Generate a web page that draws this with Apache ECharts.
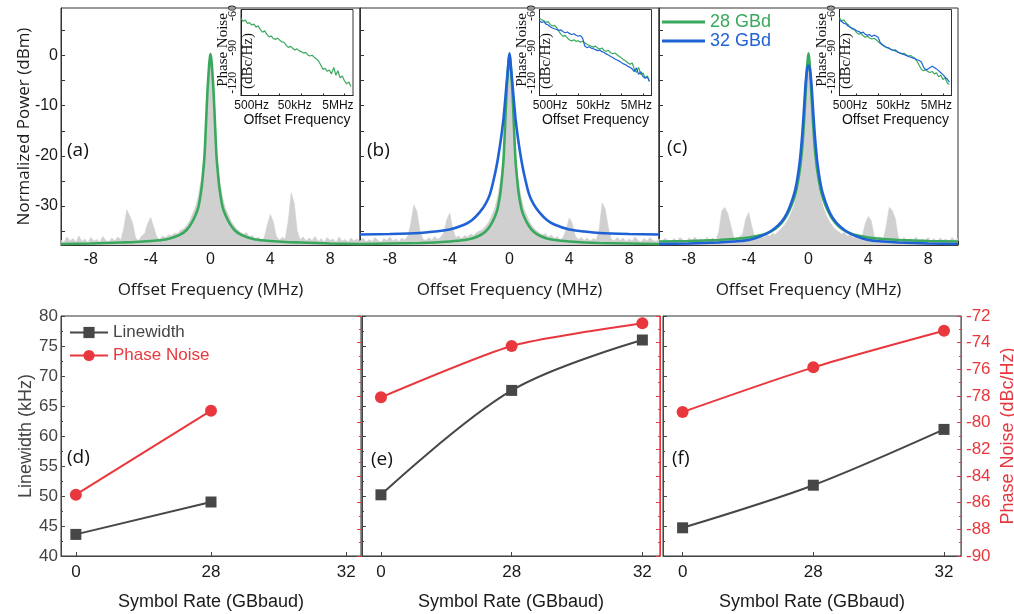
<!DOCTYPE html>
<html lang="en">
<head>
<meta charset="UTF-8">
<title>Spectra, phase noise and linewidth</title>
<script src="https://cdn.jsdelivr.net/npm/echarts@6.0.0/dist/echarts.min.js"></script>
<style>
    html, body { margin: 0; padding: 0; background: #fff; }
    #main { width: 1014px; height: 614px; }
</style>
</head>
<body>
<div id="main"></div>
<script>
    // ---------- measured spectra (grey), x in MHz ----------
    const grayX = [
        -10, -9.8, -9.6, -9.4, -9.2, -9, -8.8, -8.6, -8.4, -8.2,
        -8, -7.8, -7.6, -7.4, -7.2, -7, -6.8, -6.6, -6.4, -6.2,
        -6, -5.8, -5.6, -5.4, -5.2, -5, -4.8, -4.6, -4.4, -4.2,
        -4, -3.8, -3.6, -3.4, -3.2, -3, -2.8, -2.6, -2.4, -2.2,
        -2, -1.8, -1.6, -1.4, -1.2, -1, -0.9, -0.8, -0.7, -0.6,
        -0.5, -0.4, -0.3, -0.2, -0.15, -0.1, -0.05, 0,
        0.05, 0.1, 0.15, 0.2, 0.3, 0.4, 0.5, 0.6, 0.7, 0.8, 0.9, 1,
        1.2, 1.4, 1.6, 1.8,
        2, 2.2, 2.4, 2.6, 2.8, 3, 3.2, 3.4, 3.6, 3.8,
        4, 4.2, 4.4, 4.6, 4.8, 5, 5.2, 5.4, 5.6, 5.8,
        6, 6.2, 6.4, 6.6, 6.8, 7, 7.2, 7.4, 7.6, 7.8,
        8, 8.2, 8.4, 8.6, 8.8, 9, 9.2, 9.4, 9.6, 9.8, 10
    ];
    const grayA = [
        -36.8, -37.3, -36.2, -37.0, -36.5, -37.2, -36.0, -37.1, -36.6, -37.3,
        -36.3, -37.0, -36.7, -37.2, -36.1, -36.9, -37.2, -36.4, -37.0, -36.2,
        -36.8, -34.5, -30.8, -32.0, -33.5, -36.5, -36.9, -36.0, -35.5, -33.5,
        -32.3, -34.2, -36.2, -36.7, -36.0, -36.3, -35.8, -35.9, -35.4, -35.6,
        -34.8, -34.6, -33.9, -33.0, -31.6, -30.2, -29.0, -27.8, -26.0, -24.5,
        -22.0, -19.0, -14.5, -9.0, -5.5, -3.0, -1.0, -0.5,
        -1.2, -3.5, -6.0, -9.5, -15.0, -19.5, -22.5, -25.0, -26.5, -28.2, -29.4, -30.5,
        -31.8, -33.2, -34.0, -34.8,
        -35.2, -35.7, -35.3, -36.1, -35.9, -36.6, -36.2, -36.9, -36.3, -33.8,
        -31.7, -33.2, -36.0, -36.8, -36.3, -36.6, -33.0, -27.4, -29.5, -35.0,
        -36.7, -36.2, -37.0, -36.4, -36.9, -36.1, -37.1, -36.5, -37.2, -36.3,
        -36.9, -36.6, -37.3, -36.2, -37.0, -36.7, -37.2, -36.4, -37.0, -36.6, -37.1
    ];
    const grayB = [
        -37.0, -36.4, -37.2, -36.7, -37.1, -36.3, -36.9, -37.2, -36.5, -36.9,
        -36.2, -37.0, -36.6, -37.1, -36.4, -36.8, -36.0, -33.5, -29.8, -31.0,
        -34.8, -36.6, -36.9, -36.3, -36.8, -36.1, -36.7, -36.2, -35.4, -32.8,
        -31.4, -34.5, -36.3, -36.0, -36.5, -35.9, -36.2, -35.6, -35.9, -35.3,
        -35.0, -34.7, -34.0, -33.3, -32.0, -30.6, -29.5, -28.2, -26.6, -25.0,
        -22.6, -19.6, -15.2, -9.8, -6.2, -3.6, -1.5, -1.0,
        -1.6, -3.8, -6.5, -10.2, -15.6, -20.0, -23.0, -25.4, -27.0, -28.6, -29.8, -30.8,
        -32.2, -33.5, -34.3, -34.9,
        -35.4, -35.8, -35.5, -36.2, -35.8, -36.5, -36.1, -36.8, -36.2, -34.6,
        -32.4, -33.5, -36.0, -36.7, -36.3, -36.9, -36.4, -37.0, -36.5, -36.8,
        -34.6, -29.4, -30.6, -34.2, -36.6, -37.0, -36.3, -36.9, -36.4, -37.1,
        -36.6, -37.0, -36.2, -36.9, -37.2, -36.5, -37.0, -36.3, -36.9, -37.1, -36.6
    ];
    const grayC = [
        -36.6, -37.1, -36.4, -36.9, -37.2, -36.5, -37.0, -36.3, -36.8, -37.2,
        -36.4, -36.9, -36.2, -37.0, -36.6, -37.1, -36.3, -36.8, -36.4, -36.9,
        -35.2, -31.0, -30.3, -31.5, -33.8, -36.4, -36.8, -36.1, -35.6, -32.6,
        -31.3, -34.0, -36.2, -36.6, -36.0, -36.4, -35.8, -36.0, -35.5, -35.7,
        -35.0, -34.5, -33.8, -32.9, -31.6, -30.1, -29.0, -27.6, -26.0, -24.3,
        -21.8, -18.8, -14.2, -8.8, -5.6, -3.2, -1.3, -0.8,
        -1.4, -3.5, -6.0, -9.4, -14.8, -19.3, -22.4, -24.8, -26.4, -28.0, -29.3, -30.4,
        -31.9, -33.1, -34.0, -34.7,
        -35.1, -35.6, -35.3, -36.0, -35.7, -36.4, -36.0, -36.7, -36.1, -33.5,
        -32.1, -33.0, -36.0, -36.8, -36.2, -36.7, -34.0, -30.3, -30.9, -32.5,
        -36.2, -36.8, -36.3, -37.0, -36.5, -36.9, -36.2, -37.1, -36.6, -36.9,
        -36.3, -37.0, -36.5, -37.2, -36.4, -36.9, -36.6, -37.1, -36.3, -36.9, -36.5
    ];

    // ---------- Lorentzian fits ----------
    const fitX = [-10, -8, -6, -5, -4, -3, -2.5, -2, -1.6, -1.3, -1, -0.8, -0.6, -0.5, -0.4, -0.3, -0.2, -0.1, -0.05,
        0, 0.05, 0.1, 0.2, 0.3, 0.4, 0.5, 0.6, 0.8, 1, 1.3, 1.6, 2, 2.5, 3, 4, 5, 6, 8, 10];
    const fitA28 = [-37.6, -37.5, -37.3, -37.2, -37.0, -36.7, -36.3, -35.7, -34.8, -33.6, -31.8, -30.1, -26.5, -23.5, -20.0, -13.5, -6.9, -2.3, -0.6,
        0.3, -0.6, -2.3, -6.9, -13.5, -20.0, -23.5, -26.5, -30.1, -31.8, -33.6, -34.8, -35.7, -36.3, -36.7, -37.0, -37.2, -37.3, -37.5, -37.6];
    const fitB28 = [-37.6, -37.5, -37.4, -37.3, -37.1, -36.8, -36.5, -35.9, -35.1, -34.0, -32.3, -30.6, -27.2, -24.3, -20.8, -14.3, -7.4, -2.6, -0.8,
        0.0, -0.8, -2.6, -7.4, -14.3, -20.8, -24.3, -27.2, -30.6, -32.3, -34.0, -35.1, -35.9, -36.5, -36.8, -37.1, -37.3, -37.4, -37.5, -37.6];
    const fitB32 = [-35.7, -35.6, -35.4, -35.1, -34.7, -33.7, -32.8, -31.3, -29.6, -27.6, -24.0, -21.0, -17.2, -15.0, -12.5, -9.3, -5.8, -2.5, -0.7,
        0.45, -0.7, -2.5, -5.8, -9.3, -12.5, -15.0, -17.2, -21.0, -24.0, -27.6, -29.6, -31.3, -32.8, -33.7, -34.7, -35.1, -35.4, -35.6, -35.7];
    const fitC28 = [-37.1, -37.0, -36.8, -36.6, -36.3, -35.7, -35.1, -34.0, -32.6, -31.0, -28.8, -26.6, -23.2, -20.8, -17.6, -13.2, -7.8, -2.6, -0.7,
        0.45, -0.7, -2.6, -7.8, -13.2, -17.6, -20.8, -23.2, -26.6, -28.8, -31.0, -32.6, -34.0, -35.1, -35.7, -36.3, -36.6, -36.8, -37.0, -37.1];
    const fitC32 = [-37.6, -37.5, -37.3, -37.1, -36.8, -35.8, -35.0, -33.8, -32.3, -30.5, -28.0, -25.5, -21.5, -18.6, -15.0, -10.5, -5.8, -2.8, -2.2,
        -2.0, -2.2, -2.8, -5.8, -10.5, -15.0, -18.6, -21.5, -25.5, -28.0, -30.5, -32.3, -33.8, -35.0, -35.8, -36.8, -37.1, -37.3, -37.5, -37.6];

    // ---------- inset phase noise, offset frequency in Hz ----------
    const pnFreq = [160, 200, 250, 320, 400, 500, 630, 800, 1000, 1260,
        1600, 2000, 2500, 3200, 4000, 5000, 6300, 8000, 10000, 12600,
        16000, 20000, 25000, 32000, 40000, 50000, 63000, 80000, 100000, 126000,
        160000, 200000, 250000, 320000, 400000, 500000, 630000, 800000, 1000000, 1260000,
        1600000, 2000000, 2500000, 3200000, 4000000, 5000000, 6300000, 8000000, 10000000, 12600000,
        16000000, 20000000];
    const pnA28 = [-64.5, -67.2, -66.1, -69.0, -68.3, -70.4, -69.6, -72.1, -71.0, -74.3,
        -76.5, -75.4, -78.2, -80.6, -79.8, -81.9, -82.7, -81.6, -83.4, -84.8,
        -85.2, -87.9, -89.6, -88.7, -90.3, -91.8, -90.9, -92.6, -93.2, -94.5,
        -93.9, -96.1, -97.0, -96.4, -98.2, -99.5, -101.3, -104.8, -108.5, -107.6,
        -110.2, -109.1, -112.4, -106.8, -113.5, -109.7, -115.8, -114.2, -118.3, -121.0,
        -119.4, -123.2];
    const pnB28 = [-64.8, -65.9, -66.5, -68.1, -67.4, -69.8, -71.2, -70.6, -72.5, -75.8,
        -78.4, -80.1, -79.3, -81.7, -83.2, -84.0, -83.1, -84.6, -83.8, -85.1,
        -84.3, -85.6, -86.9, -87.8, -88.6, -89.4, -88.5, -90.2, -91.0, -90.1,
        -92.3, -93.0, -92.1, -94.2, -95.1, -94.4, -96.0, -97.5, -98.6, -100.2,
        -101.4, -102.8, -104.1, -103.0, -108.5, -111.2, -106.8, -113.0, -111.5, -115.7,
        -114.3, -118.6];
    const pnB32 = [-66.8, -68.2, -67.5, -69.6, -70.3, -71.8, -72.9, -73.6, -74.2, -75.0,
        -74.6, -76.1, -77.0, -76.4, -77.8, -78.5, -77.9, -79.2, -80.0, -79.4,
        -81.6, -88.4, -89.8, -89.1, -90.2, -90.8, -91.5, -92.4, -91.9, -93.3,
        -94.0, -95.2, -96.1, -97.4, -98.3, -99.6, -100.5, -101.4, -102.6, -103.8,
        -104.5, -105.9, -106.7, -108.2, -110.4, -107.2, -112.8, -110.5, -114.6, -116.2,
        -115.1, -119.0];
    const pnC28 = [-64.2, -66.9, -65.8, -68.7, -70.1, -72.4, -73.8, -74.6, -76.9, -78.3,
        -77.5, -79.6, -80.8, -80.1, -81.5, -82.4, -81.7, -83.0, -84.6, -86.2,
        -87.8, -88.5, -89.9, -90.6, -91.4, -92.0, -92.8, -93.5, -94.6, -95.2,
        -94.7, -96.3, -97.1, -96.6, -98.0, -98.9, -101.5, -105.2, -108.4, -109.6,
        -108.8, -110.5, -111.2, -110.3, -112.6, -111.4, -114.8, -113.6, -117.2, -116.0,
        -120.3, -121.5];
    const pnC32 = [-66.0, -67.4, -68.8, -69.5, -71.2, -72.0, -73.1, -74.0, -75.3, -76.0,
        -77.2, -76.5, -78.4, -79.0, -78.6, -80.3, -79.1, -79.8, -81.0, -85.9,
        -87.4, -88.9, -89.5, -90.2, -91.6, -92.3, -91.8, -93.7, -94.2, -95.0,
        -95.8, -96.5, -97.3, -98.1, -98.6, -99.4, -100.2, -100.9, -102.1, -106.5,
        -109.0, -108.3, -107.0, -105.8, -106.9, -108.1, -109.6, -111.4, -113.0, -115.2,
        -117.0, -119.6];
    const insetTickValues = [500, 50000, 5000000];
    const insetTickLabels = ['500Hz', '50kHz', '5MHz'];

    // ---------- linewidth / phase noise vs symbol rate ----------
    const symbolRates = ['0', '28', '32'];
    const lwD = [43.6, 49.0];
    const pnD = [-85.4, -79.1];
    const lwE = [50.2, 67.6, 76.0];
    const pnE = [-78.1, -74.25, -72.55];
    const lwF = [44.7, 51.8, 61.1];
    const pnF = [-79.2, -75.85, -73.1];

    const GREEN = '#3aa95d', BLUE = '#1f62d6', GREY = '#d0d0d0', RED = '#e8383d', DARK = '#474747';
    const SANS = 'Liberation Sans', OPEN = 'Open Sans', SERIF = 'Liberation Serif';

    function pairs(xs, ys) {
        return ys.map(function (y, i) { return [xs[i], y]; });
    }

    function gridBox(left, top, width, height) {
        return { left: left, top: top, width: width, height: height, show: true, borderColor: '#333', borderWidth: 1, outerBoundsMode: 'none', containLabel: false };
    }

    var grids = [
        gridBox(61, 8, 299, 237), gridBox(360, 8, 299, 237), gridBox(659, 8, 299, 237),
        gridBox(241, 9.5, 112, 86), gridBox(539.5, 9.5, 112, 86), gridBox(839.5, 9.5, 112, 86),
        gridBox(61, 316, 300, 240), gridBox(362, 316, 298, 240), gridBox(663, 316, 298, 240)
    ];

    function specX(g) {
        return {
            type: 'value', gridIndex: g, min: -10, max: 10, interval: 2,
            axisLine: { onZero: false, lineStyle: { color: '#333' } },
            axisTick: { inside: true, length: 4, lineStyle: { color: '#333' } },
            minorTick: { show: true, splitNumber: 2, length: 2, lineStyle: { color: '#333' } },
            axisLabel: { customValues: [-8, -4, 0, 4, 8], margin: 7, fontSize: 16, color: '#1a1a1a', fontFamily: SANS },
            splitLine: { show: false },
            name: 'Offset Frequency (MHz)', nameLocation: 'middle', nameGap: 37,
            nameTextStyle: { fontSize: 17, color: '#1a1a1a', fontFamily: OPEN }
        };
    }

    function specY(g, labels) {
        return {
            type: 'value', gridIndex: g, min: -37.8, max: 9.5,
            axisLine: { show: true, onZero: false, lineStyle: { color: '#333' } },
            axisTick: { inside: true, length: 4, customValues: [-35, -30, -25, -20, -15, -10, -5, 0, 5], lineStyle: { color: '#333' } },
            axisLabel: { show: labels, customValues: [-30, -20, -10, 0], margin: 3, fontSize: 16, color: '#1a1a1a', fontFamily: SANS },
            splitLine: { show: false },
            name: labels ? 'Normalized Power (dBm)' : '', nameLocation: 'middle', nameGap: 28,
            nameMoveOverlap: false,
            nameTextStyle: { fontSize: 17, color: '#1a1a1a', fontFamily: OPEN }
        };
    }

    function insetX(g) {
        return {
            type: 'log', gridIndex: g, min: 160, max: 25000000, logBase: 10,
            axisLine: { onZero: false, lineStyle: { color: '#222' } },
            axisTick: { inside: true, length: 2, customValues: [1000, 10000, 100000, 1000000, 10000000], lineStyle: { color: '#222' } },
            axisLabel: {
                customValues: insetTickValues, margin: 4, fontSize: 12, color: '#111', fontFamily: SANS,
                formatter: function (v) { return insetTickLabels[insetTickValues.indexOf(v)] || ''; }
            },
            splitLine: { show: false },
            name: 'Offset Frequency', nameLocation: 'middle', nameGap: 18,
            nameTextStyle: { fontSize: 14, color: '#111', fontFamily: SANS }
        };
    }

    function insetY(g) {
        return {
            type: 'value', gridIndex: g, min: -131, max: -57,
            axisLine: { show: true, onZero: false, lineStyle: { color: '#222' } },
            axisTick: { show: false },
            axisLabel: { customValues: [-120, -90, -60], rotate: 90, margin: 2, fontSize: 12, color: '#111', fontFamily: SERIF },
            splitLine: { show: false }
        };
    }

    function rateX(g, min, max) {
        return {
            type: 'value', gridIndex: g, min: min, max: max,
            axisLine: { onZero: false, lineStyle: { color: '#444' } },
            axisTick: { inside: true, length: 4, customValues: [0, 1, 2], lineStyle: { color: '#444' } },
            axisLabel: {
                customValues: [0, 1, 2], margin: 8, fontSize: 17, color: '#1a1a1a', fontFamily: SANS,
                formatter: function (v) { return symbolRates[Math.round(v)]; }
            },
            splitLine: { show: false },
            name: 'Symbol Rate (GBbaud)', nameLocation: 'middle', nameGap: 37,
            nameTextStyle: { fontSize: 18, color: '#1a1a1a', fontFamily: SANS }
        };
    }

    function lwY(g, labels) {
        return {
            type: 'value', gridIndex: g, min: 40, max: 80, interval: 5, position: 'left',
            axisLine: { show: true, onZero: false, lineStyle: { color: '#444' } },
            axisTick: { inside: true, length: 4, lineStyle: { color: '#444' } },
            minorTick: { show: true, splitNumber: 2, length: 2, lineStyle: { color: '#444' } },
            axisLabel: { show: labels, margin: 3, fontSize: 17, color: '#444', fontFamily: SANS },
            splitLine: { show: false },
            name: labels ? 'Linewidth (kHz)' : '', nameLocation: 'middle', nameGap: 26,
            nameMoveOverlap: false,
            nameTextStyle: { fontSize: 18, color: '#444', fontFamily: SANS }
        };
    }

    function pnY(g, labels) {
        return {
            type: 'value', gridIndex: g, min: -90, max: -72, interval: 2, position: 'right',
            axisLine: { show: true, onZero: false, lineStyle: { color: RED } },
            axisTick: { inside: true, length: 4, lineStyle: { color: RED } },
            minorTick: { show: true, splitNumber: 2, length: 2, lineStyle: { color: RED } },
            axisLabel: { show: labels, margin: 5, fontSize: 17, color: RED, fontFamily: SANS },
            splitLine: { show: false },
            name: labels ? 'Phase Noise (dBc/Hz)' : '', nameLocation: 'middle', nameGap: 38,
            nameTextStyle: { fontSize: 18, color: RED, fontFamily: SANS }
        };
    }

    var xAxes = [specX(0), specX(1), specX(2), insetX(3), insetX(4), insetX(5),
        rateX(6, -0.11, 2.11), rateX(7, -0.145, 2.135), rateX(8, -0.15, 2.13)];
    var yAxes = [specY(0, true), specY(1, false), specY(2, false), insetY(3), insetY(4), insetY(5),
        lwY(6, true), lwY(7, false), lwY(8, false), pnY(6, false), pnY(7, false), pnY(8, true)];

    function spectrum(ax, ys) {
        return {
            name: 'spectrum', type: 'line', xAxisIndex: ax, yAxisIndex: ax, data: pairs(grayX, ys),
            symbol: 'none', z: 1, silent: true,
            lineStyle: { width: 0.6, color: GREY },
            areaStyle: { color: GREY, opacity: 1, origin: 'start' }
        };
    }

    function fit(ax, name, color, ys) {
        return {
            name: name, type: 'line', xAxisIndex: ax, yAxisIndex: ax, data: pairs(fitX, ys),
            symbol: 'none', smooth: 0.25, z: name === '32 GBd' ? 4 : 3,
            lineStyle: { width: 2.6, color: color }, itemStyle: { color: color }
        };
    }

    function noise(ax, name, color, ys) {
        return {
            name: name, type: 'line', xAxisIndex: ax, yAxisIndex: ax, data: pairs(pnFreq, ys),
            symbol: 'none', z: name === '32 GBd' ? 4 : 3,
            lineStyle: { width: 1.2, color: color }, itemStyle: { color: color }
        };
    }

    function rateSeries(ax, yIdx, name, ys, marker, color, smooth) {
        return {
            name: name, type: 'line', xAxisIndex: ax, yAxisIndex: yIdx,
            data: ys.map(function (v, i) { return [i, v]; }),
            symbol: marker, symbolSize: marker === 'rect' ? 11 : 12, smooth: smooth, z: 3,
            lineStyle: { width: 2, color: color }, itemStyle: { color: color }
        };
    }

    var series = [
        spectrum(0, grayA), spectrum(1, grayB), spectrum(2, grayC),
        fit(0, '28 GBd', GREEN, fitA28),
        fit(1, '28 GBd', GREEN, fitB28), fit(1, '32 GBd', BLUE, fitB32),
        fit(2, '28 GBd', GREEN, fitC28), fit(2, '32 GBd', BLUE, fitC32),
        noise(3, '28 GBd', GREEN, pnA28),
        noise(4, '28 GBd', GREEN, pnB28), noise(4, '32 GBd', BLUE, pnB32),
        noise(5, '32 GBd', BLUE, pnC32), noise(5, '28 GBd', GREEN, pnC28),
        rateSeries(6, 6, 'Linewidth', lwD, 'rect', DARK, false),
        rateSeries(6, 9, 'Phase Noise', pnD, 'circle', RED, false),
        rateSeries(7, 7, 'Linewidth', lwE, 'rect', DARK, 0.35),
        rateSeries(7, 10, 'Phase Noise', pnE, 'circle', RED, 0.2),
        rateSeries(8, 8, 'Linewidth', lwF, 'rect', DARK, 0.3),
        rateSeries(8, 11, 'Phase Noise', pnF, 'circle', RED, 0.25)
    ];

    function panelLabel(text, left, top) {
        return {
            text: text, left: left, top: top, padding: 0,
            textStyle: { fontSize: 19, fontWeight: 'normal', color: '#111', fontFamily: OPEN }
        };
    }

    // rotated y titles of the three insets (two lines, the second sits inside the frame)
    function insetTitle(text, x, y) {
        return {
            type: 'text', x: x, y: y, rotation: Math.PI / 2, z: 10,
            style: {
                text: text, fill: '#111', font: '15px "Liberation Serif"',
                align: 'center', verticalAlign: 'middle', textAlign: 'center', textVerticalAlign: 'middle'
            }
        };
    }

    var insetShift = [0, 298.5, 598.5];
    var graphics = [];
    insetShift.forEach(function (dx) {
        graphics.push(insetTitle('Phase Noise', 223.5 + dx, 50));
        graphics.push(insetTitle('(dBc/Hz)', 248 + dx, 61));
    });

    var option = {
        backgroundColor: '#fff',
        animation: false,
        title: [
            panelLabel('(a)', 67, 141), panelLabel('(b)', 367, 141), panelLabel('(c)', 667, 138),
            panelLabel('(d)', 67, 448), panelLabel('(e)', 371, 450), panelLabel('(f)', 672, 449)
        ],
        legend: [{
            data: [
                { name: 'Linewidth', textStyle: { color: DARK } },
                { name: 'Phase Noise', textStyle: { color: RED } }
            ],
            left: 69, top: 324, orient: 'vertical', padding: 0, itemGap: 6,
            itemWidth: 38, itemHeight: 14,
            textStyle: { fontSize: 17, fontFamily: SANS }
        }, {
            data: [
                { name: '28 GBd', icon: 'rect', textStyle: { color: GREEN } },
                { name: '32 GBd', icon: 'rect', textStyle: { color: BLUE } }
            ],
            left: 662, top: 13, orient: 'vertical', padding: 0, itemGap: 1,
            itemWidth: 43, itemHeight: 3,
            textStyle: { fontSize: 18, fontFamily: SANS }
        }],
        grid: grids,
        xAxis: xAxes,
        yAxis: yAxes,
        graphic: graphics,
        series: series
    };

    var myChart = echarts.init(document.getElementById('main'));
    myChart.setOption(option);
    window.addEventListener('resize', function () {
        myChart.resize();
    });
</script>
</body>
</html>
